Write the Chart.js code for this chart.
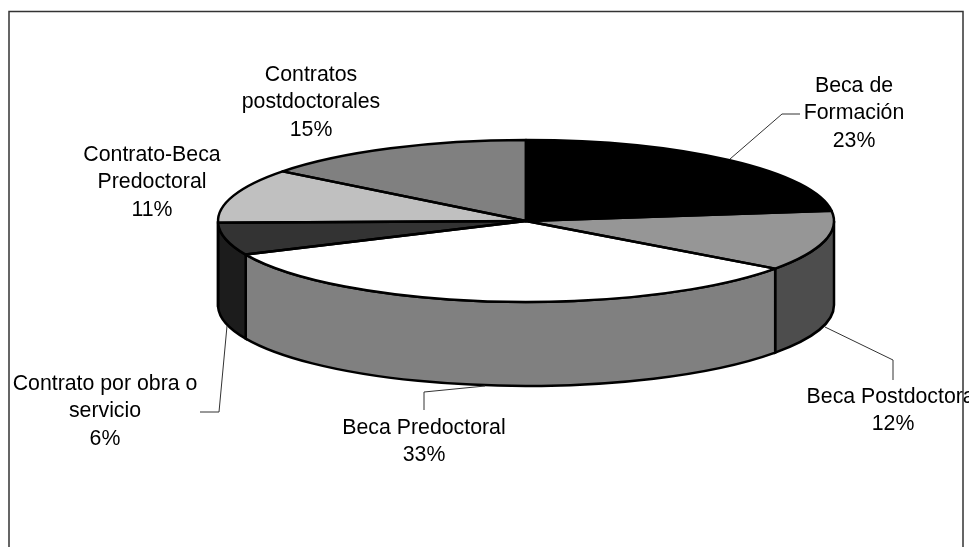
<!DOCTYPE html>
<html>
<head>
<meta charset="utf-8">
<style>
  html, body { margin: 0; background: #fff; }
  canvas { display: block; }
</style>
<script src="https://cdn.jsdelivr.net/npm/chart.js@4"></script>
</head>
<body>
<canvas id="myChart" width="969" height="547"></canvas>
<script>
const categories = [
  ["Beca de", "Formación"],
  ["Beca Postdoctoral"],
  ["Beca Predoctoral"],
  ["Contrato por obra o", "servicio"],
  ["Contrato-Beca", "Predoctoral"],
  ["Contratos", "postdoctorales"],
];
const shares = [23.0, 12.0, 33.2, 6.45, 10.85, 14.5];

const topColors = ["#000000", "#969696", "#ffffff", "#333333", "#c0c0c0", "#808080"];
const wallColors = ["#000000", "#4d4d4d", "#808080", "#1c1c1c", "#606060", "#404040"];

// label anchor (center x, first line y) and leader line for each slice
const labelSpots = [[854, 86], [893, 397], [424, 428], [105, 384], [152, 155], [311, 75]];
const leaders = [
  [[730, 159], [782, 114], [800, 114]],
  [[825, 327], [893, 360], [893, 380]],
  [[485, 386], [424, 392], [424, 410]],
  [[227, 326], [219, 412], [200, 412]],
  [],
  [],
];

const RX = 308;
const RY = 81;
const DEPTH = 84;
const LINE_H = 27.5;

// pie that gets squashed into an ellipse around its center
class Pie3D extends Chart.PieController {
  draw() {
    const ctx = this.chart.ctx;
    const arc = this.getMeta().data[0];
    ctx.save();
    ctx.translate(0, arc.y);
    ctx.scale(1, RY / RX);
    ctx.translate(0, -arc.y);
    super.draw();
    ctx.restore();
  }
}
Pie3D.id = "pie3d";
Pie3D.defaults = Chart.PieController.defaults;
Chart.register(Pie3D);

const sidesAndLabels = {
  id: "sidesAndLabels",
  beforeDatasetsDraw(chart) {
    const ctx = chart.ctx;
    ctx.save();
    ctx.fillStyle = "#fff";
    ctx.fillRect(0, 0, chart.width, chart.height);
    ctx.strokeStyle = "#333";
    ctx.lineWidth = 1.5;
    ctx.strokeRect(9, 11.5, 954, 560);

    ctx.lineWidth = 2.5;
    ctx.strokeStyle = "#000";
    chart.getDatasetMeta(0).data.forEach((arc, i) => {
      const a = Math.max(arc.startAngle, 0);
      const b = Math.min(arc.endAngle, Math.PI);
      if (b <= a) return;
      ctx.beginPath();
      ctx.ellipse(arc.x, arc.y, RX, RY, 0, a, b);
      ctx.ellipse(arc.x, arc.y + DEPTH, RX, RY, 0, b, a, true);
      ctx.closePath();
      ctx.fillStyle = wallColors[i];
      ctx.fill();
      ctx.stroke();
    });
    ctx.restore();
  },
  afterDatasetsDraw(chart) {
    const ctx = chart.ctx;
    ctx.save();
    ctx.lineWidth = 2.5;
    ctx.strokeStyle = "#000";
    ctx.lineJoin = "round";
    chart.getDatasetMeta(0).data.forEach((arc) => {
      ctx.beginPath();
      ctx.moveTo(arc.x, arc.y);
      ctx.ellipse(arc.x, arc.y, RX, RY, 0, arc.startAngle, arc.endAngle);
      ctx.closePath();
      ctx.stroke();
    });

    ctx.lineWidth = 1;
    ctx.strokeStyle = "#333";
    leaders.forEach((pts) => {
      if (!pts.length) return;
      ctx.beginPath();
      pts.forEach((p, j) => (j ? ctx.lineTo(p[0], p[1]) : ctx.moveTo(p[0], p[1])));
      ctx.stroke();
    });

    ctx.fillStyle = "#000";
    ctx.font = '21.3px "Liberation Sans"';
    ctx.textAlign = "center";
    ctx.textBaseline = "middle";
    categories.forEach((lines, i) => {
      const rows = lines.concat(Math.round(shares[i]) + "%");
      rows.forEach((t, j) => {
        ctx.fillText(t, labelSpots[i][0], labelSpots[i][1] + j * LINE_H);
      });
    });
    ctx.restore();
  },
};

new Chart("myChart", {
  type: "pie3d",
  data: {
    labels: categories.map((c) => c.join(" ")),
    datasets: [
      {
        data: shares,
        backgroundColor: topColors,
        borderWidth: 0,
      },
    ],
  },
  options: {
    responsive: false,
    animation: false,
    events: [],
    radius: RX,
    layout: { padding: { left: 83, bottom: 105 } },
    plugins: {
      legend: { display: false },
      tooltip: { enabled: false },
    },
  },
  plugins: [sidesAndLabels],
});
</script>
</body>
</html>
